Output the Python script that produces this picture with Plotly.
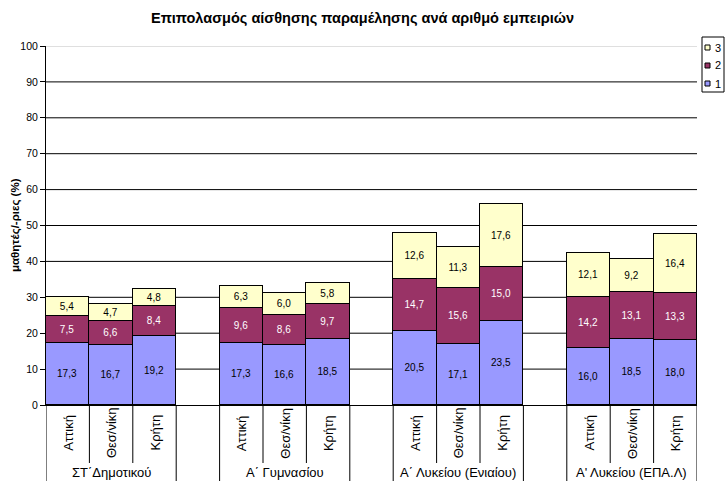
import plotly.graph_objects as go

# Stacked shares of students (%) by number of experiences (1, 2, 3),
# per school level and region.
groups = ["ΣΤ΄Δημοτικού", "Α΄ Γυμνασίου", "Α΄ Λυκείου (Ενιαίου)", "Α' Λυκείου (ΕΠΑ.Λ)"]
regions = ["Αττική", "Θεσ/νίκη", "Κρήτη"]
series_names = ["1", "2", "3"]
s1 = [17.3, 16.7, 19.2, 17.3, 16.6, 18.5, 20.5, 17.1, 23.5, 16.0, 18.5, 18.0]
s2 = [7.5, 6.6, 8.4, 9.6, 8.6, 9.7, 14.7, 15.6, 15.0, 14.2, 13.1, 13.3]
s3 = [5.4, 4.7, 4.8, 6.3, 6.0, 5.8, 12.6, 11.3, 17.6, 12.1, 9.2, 16.4]
y_ticks = list(range(0, 101, 10))

colors = ["#9999FF", "#993366", "#FFFFCC"]
label_colors = ["#000000", "#FFFFFF", "#000000"]
FONT = "Liberation Sans, Arial, sans-serif"

W, H = 725, 481
ML, MR, MT, MB = 46, 28, 46, 76
PW, PH = W - ML - MR, H - MT - MB

# each group holds three bars followed by an empty slot
slot = len(regions) + 1
xpos = [g * slot + r for g in range(len(groups)) for r in range(len(regions))]
n_slots = len(groups) * slot - 1


def px_x(px):
    return (px - ML) / PW


def px_y(py):
    return (H - MB - py) / PH


fig = go.Figure()
for name, vals, col, tcol in zip(series_names, [s1, s2, s3], colors, label_colors):
    fig.add_trace(go.Bar(
        x=xpos, y=vals, name=name, width=1,
        marker=dict(color=col, line=dict(color="#000000", width=1)),
        text=vals, texttemplate="%{y:.1f}", textposition="inside",
        insidetextanchor="middle", constraintext="none",
        textfont=dict(family=FONT, size=10, color=tcol),
        showlegend=False, hoverinfo="skip",
    ))

shapes = []
# horizontal gridlines
for t in y_ticks[1:]:
    shapes.append(dict(type="line", xref="paper", yref="y", x0=0, x1=1, y0=t, y1=t,
                       line=dict(color="#C0C0C0" if t == y_ticks[-1] else "#000000", width=1),
                       layer="below"))

# category separators below the axis
inner_bottom = px_y(463)
outer_bottom = px_y(481)
for g in range(len(groups)):
    start = g * slot - 0.5
    end = g * slot + len(regions) - 0.5
    for b in (start, end):
        shapes.append(dict(type="line", xref="x", yref="paper", x0=b, x1=b, y0=0, y1=outer_bottom,
                           line=dict(color="#000000", width=1)))
    for r in range(1, len(regions)):
        b = start + r
        shapes.append(dict(type="line", xref="x", yref="paper", x0=b, x1=b, y0=0, y1=inner_bottom,
                           line=dict(color="#000000", width=1)))

annotations = []
for g, gname in enumerate(groups):
    for r, rname in enumerate(regions):
        annotations.append(dict(x=g * slot + r, y=px_y(433), xref="x", yref="paper",
                                text=rname, textangle=-90, showarrow=False,
                                xanchor="center", yanchor="middle",
                                font=dict(family=FONT, size=13, color="#000000")))
    annotations.append(dict(x=g * slot + 1, y=px_y(472), xref="x", yref="paper",
                            text=gname, showarrow=False, xanchor="center", yanchor="middle",
                            font=dict(family=FONT, size=13, color="#000000")))

# legend box (items listed top-down as 3, 2, 1)
shapes.append(dict(type="rect", xref="paper", yref="paper",
                   x0=px_x(702), x1=px_x(724), y0=px_y(92), y1=px_y(37),
                   line=dict(color="#000000", width=1), fillcolor="#FFFFFF"))
legend_rows = [47.5, 65.5, 83.5]
for i, (name, col) in enumerate(reversed(list(zip(series_names, colors)))):
    cy = legend_rows[i]
    shapes.append(dict(type="rect", xref="paper", yref="paper",
                       x0=px_x(705), x1=px_x(710), y0=px_y(cy + 2.5), y1=px_y(cy - 2.5),
                       line=dict(color="#000000", width=1), fillcolor=col))
    annotations.append(dict(x=px_x(713), y=px_y(cy), xref="paper", yref="paper",
                            text=name, showarrow=False, xanchor="left", yanchor="middle",
                            font=dict(family=FONT, size=11, color="#000000")))

annotations.append(dict(x=px_x(15), y=px_y(225), xref="paper", yref="paper",
                        text="<b>μαθητές/-ριες (%)</b>", textangle=-90, showarrow=False,
                        xanchor="center", yanchor="middle",
                        font=dict(family=FONT, size=11.5, color="#000000")))

fig.update_layout(
    width=W, height=H,
    margin=dict(l=ML, r=MR, t=MT, b=MB, autoexpand=False),
    paper_bgcolor="#FFFFFF", plot_bgcolor="#FFFFFF",
    barmode="stack", bargap=0, separators=",.",
    title=dict(text="<b>Επιπολασμός αίσθησης παραμέλησης ανά αριθμό εμπειριών</b>",
               x=0.5, xref="container", y=1 - 18 / H, yref="container",
               xanchor="center", yanchor="middle",
               font=dict(family=FONT, size=14.5, color="#000000")),
    xaxis=dict(range=[-0.5, n_slots - 0.5], showticklabels=False, showgrid=False,
               zeroline=False, showline=True, linecolor="#000000", linewidth=1, ticks=""),
    yaxis=dict(range=[0, 100], tickvals=y_ticks, showgrid=False, zeroline=False,
               showline=True, linecolor="#000000", linewidth=1,
               ticks="outside", ticklen=5, tickcolor="#000000",
               tickfont=dict(family=FONT, size=10.5, color="#000000")),
    shapes=shapes, annotations=annotations,
)

fig.write_html("out.html")
